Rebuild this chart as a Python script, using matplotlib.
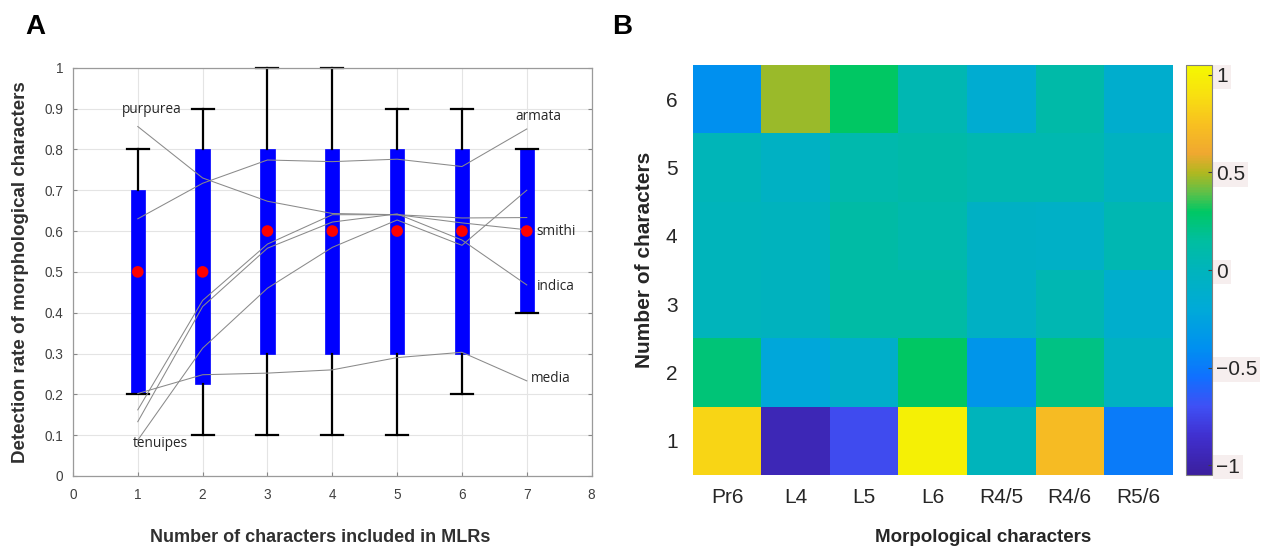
import numpy as np
import matplotlib
matplotlib.use("Agg")
import matplotlib.pyplot as plt
from matplotlib.colors import LinearSegmentedColormap

plt.rcParams['font.family'] = ['Liberation Sans', 'DejaVu Sans']

# ---- panel A data ----
n_chars = [1, 2, 3, 4, 5, 6, 7]
q1 = [0.2, 0.225, 0.3, 0.3, 0.3, 0.3, 0.4]
q3 = [0.7, 0.8, 0.8, 0.8, 0.8, 0.8, 0.8]
whis_lo = [0.2, 0.1, 0.1, 0.1, 0.1, 0.2, 0.4]
whis_hi = [0.8, 0.9, 1.0, 1.0, 0.9, 0.9, 0.8]
medians = [0.5, 0.5, 0.6, 0.6, 0.6, 0.6, 0.6]

purpurea = [0.856, 0.73, 0.673, 0.643, 0.64, 0.632, 0.633]
armata = [0.63, 0.717, 0.774, 0.77, 0.776, 0.758, 0.85]
media = [0.202, 0.248, 0.252, 0.26, 0.29, 0.303, 0.233]
smithi = [0.162, 0.43, 0.568, 0.64, 0.64, 0.62, 0.603]
indica = [0.133, 0.415, 0.558, 0.622, 0.642, 0.578, 0.468]
tenuipes = [0.088, 0.313, 0.46, 0.56, 0.627, 0.565, 0.70]

# ---- panel B data ----
characters = ['Pr6', 'L4', 'L5', 'L6', 'R4/5', 'R4/6', 'R5/6']
row_labels = [1, 2, 3, 4, 5, 6]
coef = np.array([
    [0.85, -0.95, -0.72, 1.00, 0.00, 0.72, -0.50],   # 1
    [0.25, -0.22, -0.10, 0.30, -0.36, 0.22, -0.04],  # 2
    [0.00, -0.02, 0.12, 0.12, -0.06, 0.05, -0.12],   # 3
    [0.00, -0.01, 0.12, 0.08, -0.06, -0.08, 0.05],   # 4
    [0.02, -0.05, 0.08, 0.10, 0.06, 0.06, -0.03],    # 5
    [-0.40, 0.47, 0.30, 0.05, -0.15, 0.10, -0.13],   # 6
])

fig = plt.figure(figsize=(12.62, 5.48), dpi=100)

# ================= A =================
ax = fig.add_axes([0.0578, 0.1314, 0.411, 0.745])
ax.set_xlim(0, 8)
ax.set_ylim(0, 1)
ax.set_xticks(range(0, 9))
ax.set_yticks(np.round(np.arange(0, 1.01, 0.1), 1))
ax.set_yticklabels(['0', '0.1', '0.2', '0.3', '0.4', '0.5', '0.6', '0.7', '0.8', '0.9', '1'])
ax.grid(True, color='#e4e4e4', lw=0.8)
ax.set_axisbelow(True)
ax.tick_params(direction='in', length=3, color='#888888', labelcolor='#404040',
               labelsize=9.8, right=True, top=False)
ax.tick_params(axis='x', pad=9)
ax.tick_params(axis='y', pad=7)
for s in ax.spines.values():
    s.set_color('#9a9a9a')
    s.set_linewidth(0.9)

stats = []
for i in range(len(n_chars)):
    stats.append({'med': medians[i], 'q1': q1[i], 'q3': q3[i],
                  'whislo': whis_lo[i], 'whishi': whis_hi[i], 'fliers': []})
bp = ax.bxp(stats, positions=n_chars, widths=0.22, capwidths=0.34, patch_artist=True,
            showfliers=False, manage_ticks=False,
            boxprops=dict(facecolor='#0000ff', edgecolor='#0000ff', lw=0.5),
            whiskerprops=dict(color='black', lw=1.6),
            capprops=dict(color='black', lw=1.6),
            medianprops=dict(visible=False), zorder=2)
for c in bp['caps'] + bp['whiskers']:
    c.set_clip_on(False)
ax.scatter(n_chars, medians, s=70, color='#ff0000', zorder=4, edgecolors='none')

for series in [purpurea, armata, media, smithi, indica, tenuipes]:
    ax.plot(n_chars, series, color='#8a8a8a', lw=0.75, zorder=3)

lab_kw = dict(fontsize=9.8, color='#262626', family=['Open Sans', 'DejaVu Sans'], zorder=5)
ax.text(0.75, 0.897, 'purpurea', va='center', ha='left', **lab_kw)
ax.text(0.92, 0.08, 'tenuipes', va='center', ha='left', **lab_kw)
ax.text(6.83, 0.88, 'armata', va='center', ha='left', **lab_kw)
ax.text(7.15, 0.6, 'smithi', va='center', ha='left', **lab_kw)
ax.text(7.15, 0.465, 'indica', va='center', ha='left', **lab_kw)
ax.text(7.07, 0.238, 'media', va='center', ha='left', **lab_kw)

fig.text(0.2536, 0.02, 'Number of characters included in MLRs', fontsize=13,
         fontweight='bold', color='#303030', ha='center', va='center')
fig.text(0.0165, 0.504, 'Detection rate of morphological characters', fontsize=13.5,
         fontweight='bold', color='#303030', ha='center', va='center', rotation=90)

# ================= B =================
anchors = [(-1.05, '#3b1f9e'), (-0.85, '#4030d0'), (-0.7, '#3f50f5'), (-0.55, '#1070ff'),
           (-0.4, '#0090f0'), (-0.2, '#00aad8'), (0.0, '#00b4bc'), (0.15, '#00bea0'),
           (0.3, '#00c864'), (0.4, '#60c048'), (0.5, '#b0b820'), (0.6, '#f0a830'),
           (0.75, '#f8c020'), (0.9, '#f8e010'), (1.05, '#f5f800')]
vmin, vmax = -1.05, 1.05
cmap = LinearSegmentedColormap.from_list(
    'parula_like', [((v - vmin) / (vmax - vmin), c) for v, c in anchors])

axb = fig.add_axes([0.549, 0.1332, 0.380, 0.748])
im = axb.imshow(coef, cmap=cmap, vmin=vmin, vmax=vmax, origin='lower', aspect='auto',
                extent=[0.5, len(characters) + 0.5, 0.5, len(row_labels) + 0.5])
axb.set_xticks(range(1, len(characters) + 1))
axb.set_xticklabels(characters)
axb.set_yticks(row_labels)
axb.set_yticklabels([str(r) for r in row_labels])
axb.tick_params(length=0, labelsize=15, labelcolor='#262626')
axb.tick_params(axis='x', pad=9)
axb.tick_params(axis='y', pad=11)
for s in axb.spines.values():
    s.set_visible(False)

fig.text(0.779, 0.02, 'Morpological characters', fontsize=13.5, fontweight='bold',
         color='#262626', ha='center', va='center')
fig.text(0.511, 0.526, 'Number of characters', fontsize=15, fontweight='bold',
         color='#262626', ha='center', va='center', rotation=90)

cax = fig.add_axes([0.9398, 0.1332, 0.0206, 0.748])
cb = fig.colorbar(im, cax=cax, ticks=[-1, -0.5, 0, 0.5, 1])
cb.ax.set_yticklabels(['\u22121', '\u22120.5', '0', '0.5', '1'])
cb.ax.tick_params(direction='in', length=3, labelsize=15, labelcolor='#262626',
                  color='#404040', pad=3)
cb.outline.set_edgecolor('#808080')
cb.outline.set_linewidth(0.8)
for t in cb.ax.get_yticklabels():
    t.set_bbox(dict(facecolor='#f6eeee', edgecolor='none', pad=2))

fig.text(0.028, 0.95, 'A', fontsize=20, fontweight='bold', ha='center', va='center')
fig.text(0.493, 0.95, 'B', fontsize=20, fontweight='bold', ha='center', va='center')

fig.savefig('out.png', dpi=100)
